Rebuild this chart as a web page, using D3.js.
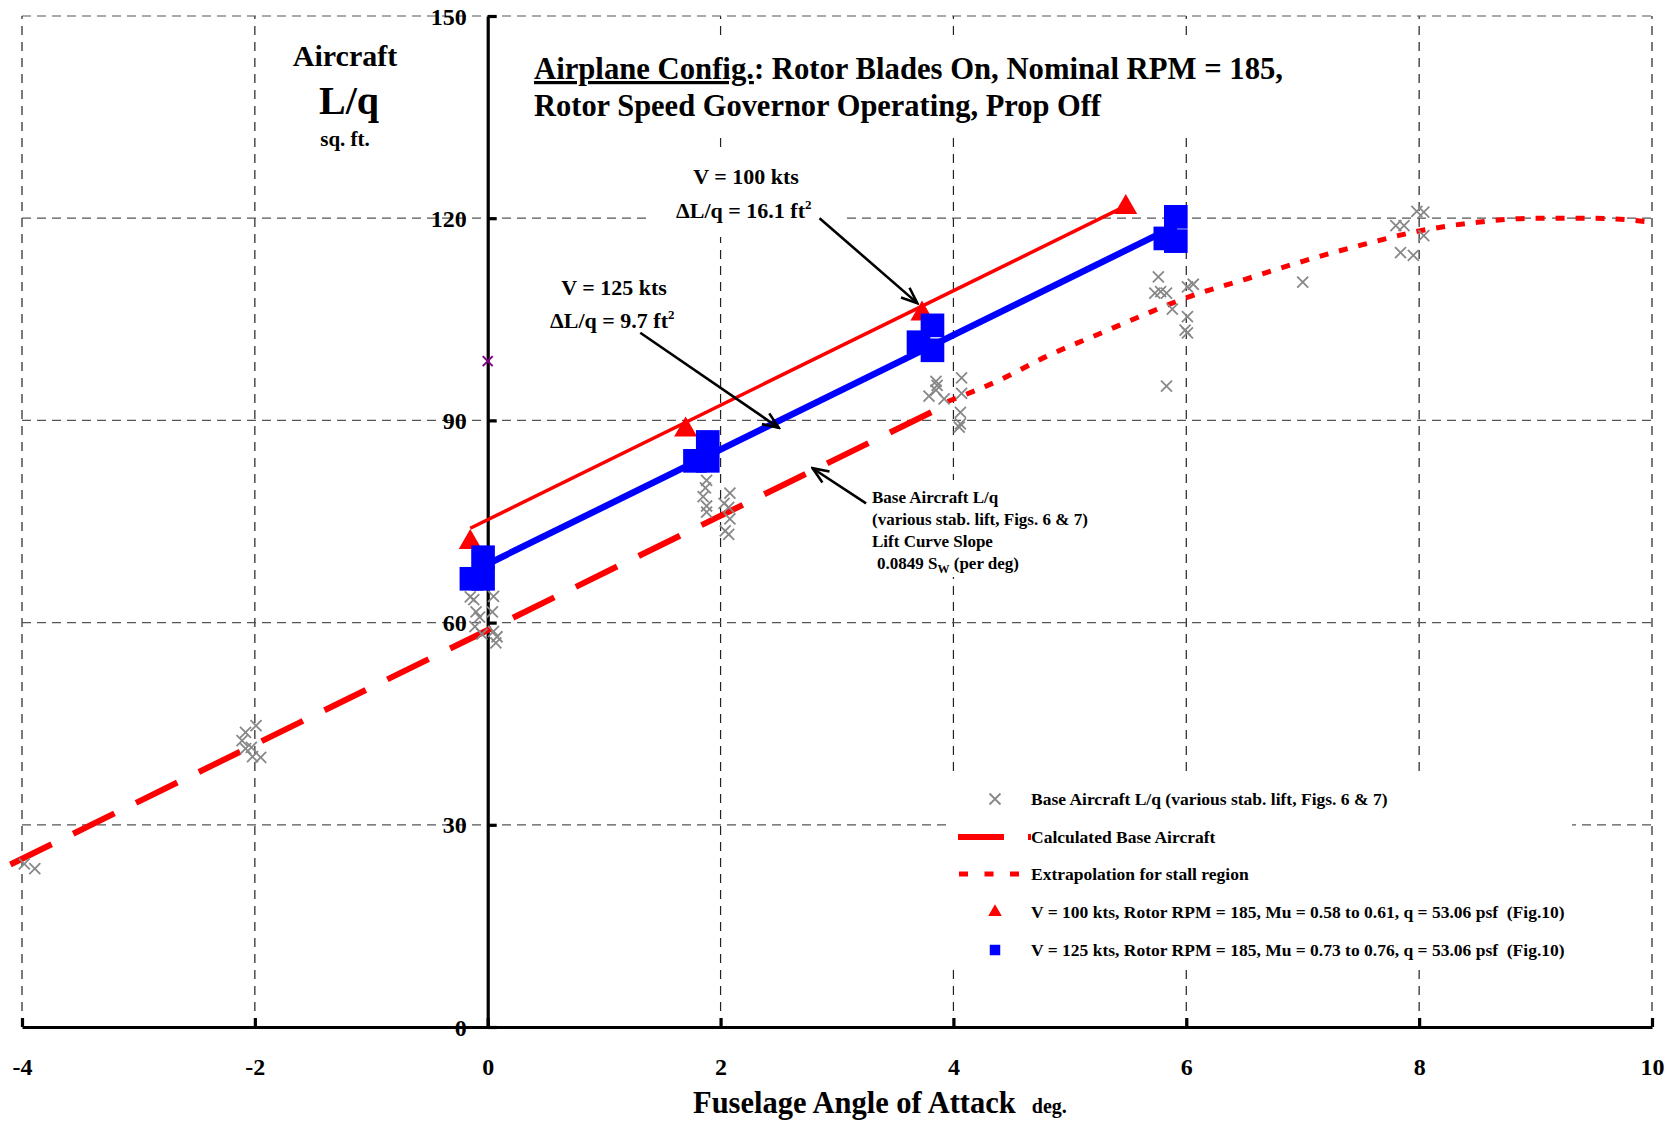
<!DOCTYPE html>
<html><head><meta charset="utf-8">
<script src="https://cdn.jsdelivr.net/npm/d3@7"></script>
<style>
body{margin:0;background:#fff}
svg{display:block}
text{font-family:"Liberation Serif","Times New Roman",serif;font-weight:bold;fill:#000}
</style>
</head><body>
<svg id="c" width="1671" height="1121"></svg>
<script>
// ---------- data ----------
const xTicks = [-4, -2, 0, 2, 4, 6, 8, 10];
const yTicks = [0, 30, 60, 90, 120, 150];

// Calculated base aircraft (linear, slope 0.0849 S_W per deg)
const baseCalcX = [-4.1, 3.95];
const baseCalcY = [24.1, 92.4];

// Extrapolation for stall region
const extrapX = [3.95, 4.4, 4.8, 5.26, 5.6, 6.0, 6.5, 7.0, 7.5, 8.0, 8.5, 9.0, 9.5, 10.0];
const extrapY = [92.8, 96.0, 99.5, 102.9, 105.4, 108.2, 110.9, 113.6, 116.0, 118.1, 119.4, 120.0, 120.0, 119.4];

// V = 100 kts line and points
const v100LineX = [-0.15, 5.42];
const v100LineY = [74.0, 121.3];
const v100X = [-0.15, 1.70, 3.73, 5.48];
const v100Y = [71.9, 88.6, 105.8, 121.6];

// V = 125 kts line and points
const v125LineX = [0.0, 5.76];
const v125LineY = [68.7, 117.6];
const v125X = [-0.14, -0.04, -0.04, 1.78, 1.89, 1.89, 3.70, 3.82, 3.82, 5.82, 5.91, 5.91];
const v125Y = [66.5, 66.5, 69.7, 84.0, 84.0, 86.8, 101.6, 100.4, 104.1, 117.0, 116.6, 120.2];

// Base aircraft test data (various stab. lift)
const baseX = [-3.98, -3.89, -2.08, -1.99, -2.11, -2.08, -2.03, -2.02, -1.95,
  -0.15, -0.12, 0.05, -0.10, -0.07, 0.04, -0.11, -0.05, 0.05, 0.08, 0.07,
  1.88, 1.87, 1.85, 1.88, 1.88, 2.08, 2.03, 2.07, 2.08, 2.04, 2.07,
  3.85, 3.86, 3.79, 3.85, 3.92, 4.07, 4.07, 4.06, 4.06, 4.05,
  5.76, 5.73, 5.78, 5.83, 5.88, 6.01, 6.06, 6.01, 5.99, 6.01, 5.83,
  7.00,
  7.80, 7.87, 7.98, 8.04, 8.04, 7.84, 7.95];
const baseY = [24.2, 23.5, 43.7, 44.7, 42.5, 41.3, 41.5, 40.1, 40.0,
  63.8, 63.4, 63.9, 61.6, 60.8, 61.6, 59.4, 58.3, 58.7, 57.9, 57.0,
  81.1, 80.0, 78.7, 77.3, 76.4, 79.2, 77.7, 77.1, 75.4, 73.6, 73.1,
  95.8, 95.2, 93.6, 94.5, 93.2, 96.3, 94.0, 91.2, 89.5, 89.0,
  111.3, 108.9, 109.1, 108.9, 106.5, 109.8, 110.2, 105.4, 103.4, 103.0, 95.1,
  110.5,
  118.9, 118.9, 121.0, 120.9, 117.4, 114.9, 114.5];

// odd point
const oddX = [0.0];
const oddY = [98.8];

// annotation arrows (data coords)
const arrowFromX = [2.85, 1.31, 3.25];
const arrowFromY = [120.0, 103.0, 77.7];
const arrowToX = [3.69, 2.50, 2.79];
const arrowToY = [107.4, 88.9, 82.9];

const legendLabels = [
  "Base Aircraft L/q (various stab. lift, Figs. 6 & 7)",
  "Calculated Base Aircraft",
  "Extrapolation for stall region",
  "V = 100 kts, Rotor RPM = 185, Mu = 0.58 to 0.61, q = 53.06 psf  (Fig.10)",
  "V = 125 kts, Rotor RPM = 185, Mu = 0.73 to 0.76, q = 53.06 psf  (Fig.10)"
];

// ---------- drawing ----------
const svg = d3.select('#c');
const x = d3.scaleLinear().domain([-4, 10]).range([22, 1652]);
const y = d3.scaleLinear().domain([0, 150]).range([1027, 16]);
const RED = '#ff0000', BLUE = '#0000ff', GRAY = '#888888';

const defs = svg.append('defs');
defs.append('marker').attr('id', 'ah')
  .attr('viewBox', '-18 -9 20 18').attr('refX', 0).attr('refY', 0)
  .attr('markerWidth', 20).attr('markerHeight', 18)
  .attr('markerUnits', 'userSpaceOnUse').attr('orient', 'auto')
  .append('path').attr('d', 'M-16,-6.5 L0,0 L-16,6.5')
  .attr('fill', 'none').attr('stroke', '#000').attr('stroke-width', 2.6);

// grid
const grid = svg.append('g');
grid.selectAll('line.gv').data(xTicks.filter(d => d !== 0)).join('line')
  .attr('x1', d => x(d)).attr('x2', d => x(d)).attr('y1', y(0)).attr('y2', y(150))
  .attr('stroke', '#222').attr('stroke-width', 1.2).attr('stroke-dasharray', '9,7');
grid.selectAll('line.gh').data(yTicks.filter(d => d !== 0)).join('line')
  .attr('x1', x(-4)).attr('x2', x(10)).attr('y1', d => y(d)).attr('y2', d => y(d))
  .attr('stroke', '#555').attr('stroke-width', 1.2).attr('stroke-dasharray', '9,6');

// white backgrounds behind text blocks
const bg = svg.append('g').attr('fill', '#fff');
bg.append('rect').attr('x', 525).attr('y', 37).attr('width', 765).attr('height', 101);
bg.append('rect').attr('x', 650).attr('y', 150).attr('width', 192).attr('height', 87);
bg.append('rect').attr('x', 540).attr('y', 262).attr('width', 150).attr('height', 75);
bg.append('rect').attr('x', 868).attr('y', 480).attr('width', 230).attr('height', 97);
bg.append('rect').attr('x', 950).attr('y', 776).attr('width', 622).attr('height', 192);

// axes
const fmt = d => String(d);
const xAxis = d3.axisBottom(x).tickValues(xTicks).tickFormat(fmt).tickSizeInner(-9).tickSizeOuter(0).tickPadding(31);
const gx = svg.append('g').attr('transform', `translate(0,${y(0)})`).call(xAxis);
const yAxis = d3.axisLeft(y).tickValues(yTicks).tickFormat(fmt).tickSizeInner(-9).tickSizeOuter(0).tickPadding(21);
const gy = svg.append('g').attr('transform', `translate(${x(0)},0)`).call(yAxis);
[gx, gy].forEach(g => {
  g.attr('font-family', null).attr('font-size', null);
  g.select('.domain').attr('stroke', '#000').attr('stroke-width', 3.2);
  g.selectAll('.tick line').attr('stroke', '#000').attr('stroke-width', 3.2);
  g.selectAll('.tick text').style('font-size', '24px').attr('fill', '#000');
});
gy.selectAll('.tick text').attr('dy', '0.34em');

// calculated base & extrapolation
const line = d3.line().x(d => x(d[0])).y(d => y(d[1]));
svg.append('path').datum(d3.zip(baseCalcX, baseCalcY)).attr('d', line)
  .attr('fill', 'none').attr('stroke', RED).attr('stroke-width', 6).attr('stroke-dasharray', '46,24');
svg.append('path').datum(d3.zip(extrapX, extrapY))
  .attr('d', d3.line().x(d => x(d[0])).y(d => y(d[1])).curve(d3.curveMonotoneX))
  .attr('fill', 'none').attr('stroke', RED).attr('stroke-width', 5).attr('stroke-dasharray', '9,11');

// x markers
const xMark = s => `M${-s},${-s}L${s},${s}M${-s},${s}L${s},${-s}`;
svg.append('g').selectAll('path').data(d3.zip(baseX, baseY)).join('path')
  .attr('transform', d => `translate(${x(d[0])},${y(d[1])})`)
  .attr('d', xMark(5.5)).attr('stroke', GRAY).attr('stroke-width', 1.8).attr('fill', 'none');
svg.append('g').selectAll('path').data(d3.zip(oddX, oddY)).join('path')
  .attr('transform', d => `translate(${x(d[0])},${y(d[1])})`)
  .attr('d', xMark(5)).attr('stroke', '#800080').attr('stroke-width', 2).attr('fill', 'none');

// V lines
svg.append('path').datum(d3.zip(v100LineX, v100LineY)).attr('d', line)
  .attr('fill', 'none').attr('stroke', RED).attr('stroke-width', 3.5);
svg.append('path').datum(d3.zip(v125LineX, v125LineY)).attr('d', line)
  .attr('fill', 'none').attr('stroke', BLUE).attr('stroke-width', 6.5);

// markers
svg.append('g').selectAll('path').data(d3.zip(v100X, v100Y)).join('path')
  .attr('transform', d => `translate(${x(d[0])},${y(d[1])})`)
  .attr('d', d3.symbol(d3.symbolTriangle, 230)()).attr('fill', RED);
svg.append('g').selectAll('path').data(d3.zip(v125X, v125Y)).join('path')
  .attr('transform', d => `translate(${x(d[0])},${y(d[1])})`)
  .attr('d', d3.symbol(d3.symbolSquare, 560)()).attr('fill', BLUE);

// arrows
svg.append('g').selectAll('line').data(d3.range(arrowFromX.length)).join('line')
  .attr('x1', i => x(arrowFromX[i])).attr('y1', i => y(arrowFromY[i]))
  .attr('x2', i => x(arrowToX[i])).attr('y2', i => y(arrowToY[i]))
  .attr('stroke', '#000').attr('stroke-width', 2.6).attr('marker-end', 'url(#ah)');

// ---------- texts ----------
// y label
svg.append('text').attr('x', 345).attr('y', 66).attr('text-anchor', 'middle').style('font-size', '30px').text('Aircraft');
svg.append('text').attr('x', 349).attr('y', 114).attr('text-anchor', 'middle').style('font-size', '40px').text('L/q');
svg.append('text').attr('x', 345).attr('y', 146).attr('text-anchor', 'middle').style('font-size', '21px').text('sq. ft.');

// x label
const xl = svg.append('text').attr('x', 693).attr('y', 1113).style('font-size', '30.5px');
xl.append('tspan').text('Fuselage Angle of Attack');
xl.append('tspan').attr('dx', 16).style('font-size', '20px').text('deg.');

// title
const t1 = svg.append('text').attr('x', 534).attr('y', 79).style('font-size', '32px')
  .attr('textLength', 749).attr('lengthAdjust', 'spacingAndGlyphs');
t1.append('tspan').style('text-decoration', 'underline').text('Airplane Config.');
t1.append('tspan').text(': Rotor Blades On, Nominal RPM = 185,');
svg.append('text').attr('x', 534).attr('y', 116).style('font-size', '32px')
  .attr('textLength', 567).attr('lengthAdjust', 'spacingAndGlyphs')
  .text('Rotor Speed Governor Operating, Prop Off');

// V = 100 annotation
svg.append('text').attr('x', 746).attr('y', 184).attr('text-anchor', 'middle').style('font-size', '22px').text('V = 100 kts');
const a1 = svg.append('text').attr('x', 676).attr('y', 218).style('font-size', '22px');
a1.append('tspan').text('\u0394L/q = 16.1 ft');
a1.append('tspan').attr('dy', -9).style('font-size', '13px').text('2');

// V = 125 annotation
svg.append('text').attr('x', 614).attr('y', 295).attr('text-anchor', 'middle').style('font-size', '22px').text('V = 125 kts');
const a2 = svg.append('text').attr('x', 550).attr('y', 328).style('font-size', '22px');
a2.append('tspan').text('\u0394L/q = 9.7 ft');
a2.append('tspan').attr('dy', -9).style('font-size', '13px').text('2');

// base annotation
const bl = ['Base Aircraft L/q', '(various stab. lift, Figs. 6 & 7)', 'Lift Curve Slope'];
svg.append('g').selectAll('text').data(bl).join('text')
  .attr('x', 872).attr('y', (d, i) => 503 + i * 22).style('font-size', '17px').text(d => d);
const b4 = svg.append('text').attr('x', 877).attr('y', 569).style('font-size', '17px');
b4.append('tspan').text('0.0849 S');
b4.append('tspan').attr('dy', 4).style('font-size', '12px').text('W');
b4.append('tspan').attr('dy', -4).style('white-space', 'pre').text(' (per deg)');

// legend
const lg = svg.append('g');
const rowY = [799, 837, 874, 912, 950];
lg.append('path').attr('transform', `translate(995,${rowY[0]})`).attr('d', xMark(5.5))
  .attr('stroke', GRAY).attr('stroke-width', 1.8).attr('fill', 'none');
lg.append('line').attr('x1', 958).attr('x2', 1031).attr('y1', rowY[1]).attr('y2', rowY[1])
  .attr('stroke', RED).attr('stroke-width', 6).attr('stroke-dasharray', '46,24');
lg.append('line').attr('x1', 959).attr('x2', 1020).attr('y1', rowY[2]).attr('y2', rowY[2])
  .attr('stroke', RED).attr('stroke-width', 5).attr('stroke-dasharray', '9,16.5');
lg.append('path').attr('transform', `translate(995,${rowY[3]})`)
  .attr('d', d3.symbol(d3.symbolTriangle, 80)()).attr('fill', RED);
lg.append('path').attr('transform', `translate(995,${rowY[4]})`)
  .attr('d', d3.symbol(d3.symbolSquare, 110)()).attr('fill', BLUE);
lg.selectAll('text').data(legendLabels).join('text')
  .attr('x', 1031).attr('y', (d, i) => rowY[i] + 6).style('font-size', '17.5px')
  .style('white-space', 'pre').text(d => d);
</script>
</body></html>
